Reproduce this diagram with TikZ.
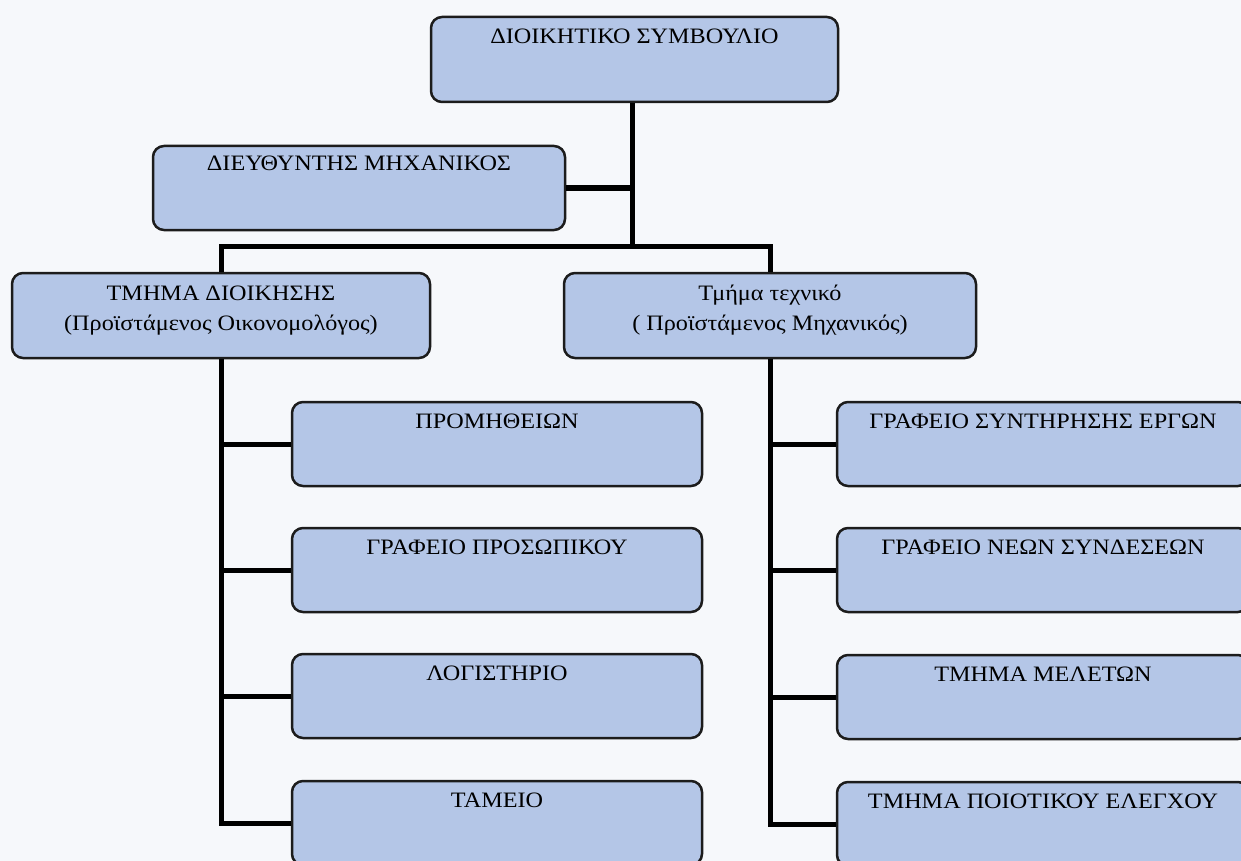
\documentclass[tikz,border=0pt]{standalone}
\usepackage{fontspec}
\setmainfont{Liberation Serif}[FakeStretch=1.1]
\definecolor{boxfill}{HTML}{B4C6E7}
\definecolor{boxline}{HTML}{1C1C1C}
\definecolor{bg}{HTML}{F6F8FB}
\tikzset{
  orgbox/.style={draw=boxline, line width=2.5pt, fill=boxfill, rounded corners=11pt,
    inner sep=0pt, minimum height=84pt},
  conn/.style={draw=black, line width=5pt},
  lbl/.style={anchor=base, inner sep=0pt, font=\fontsize{22}{26}\selectfont, text=black}
}
\begin{document}
\begin{tikzpicture}[x=1pt,y=-1pt]
\useasboundingbox (0,0) rectangle (1241,861);
\fill[bg] (0,0) rectangle (1241,861);
\clip (0,0) rectangle (1241,861);

% boxes
\node[orgbox, minimum width=407pt, minimum height=85pt] (top)   at (634.5,59.5) {};
\node[orgbox, minimum width=412pt] (dir)   at (359,188) {};
\node[orgbox, minimum width=418pt, minimum height=85pt] (admin) at (221,315.5) {};
\node[orgbox, minimum width=412pt, minimum height=85pt] (tech)  at (770,315.5) {};

\node[orgbox, minimum width=410pt] (l1) at (497,444) {};
\node[orgbox, minimum width=410pt] (l2) at (497,570) {};
\node[orgbox, minimum width=410pt] (l3) at (497,696) {};
\node[orgbox, minimum width=410pt] (l4) at (497,823) {};

\node[orgbox, minimum width=412pt] (r1) at (1043,444) {};
\node[orgbox, minimum width=412pt] (r2) at (1043,570) {};
\node[orgbox, minimum width=412pt] (r3) at (1043,697) {};
\node[orgbox, minimum width=412pt] (r4) at (1043,824) {};

% connectors
\coordinate (j) at (632,246);
\draw[conn] (j |- top.south) -- (j);
\draw[conn] (dir.east) -- (dir.east -| j);
\draw[conn] (admin.north) |- (j) -| (tech.north);

\draw[conn] (admin.south) |- (l4.west);
\draw[conn] (admin.south |- l1.west) -- (l1.west);
\draw[conn] (admin.south |- l2.west) -- (l2.west);
\draw[conn] (admin.south |- l3.west) -- (l3.west);

\draw[conn] (tech.south) |- (r4.west);
\draw[conn] (tech.south |- r1.west) -- (r1.west);
\draw[conn] (tech.south |- r2.west) -- (r2.west);
\draw[conn] (tech.south |- r3.west) -- (r3.west);

% texts
\node[lbl] (ttop) at ([yshift=-28pt]top.north) {ΔΙΟΙΚΗΤΙΚΟ ΣΥΜΒΟΥΛΙΟ};
\node[lbl] (tdir) at ([yshift=-26pt]dir.north) {ΔΙΕΥΘΥΝΤΗΣ ΜΗΧΑΝΙΚΟΣ};
\node[lbl] (tadmina) at ([yshift=-29pt]admin.north) {ΤΜΗΜΑ ΔΙΟΙΚΗΣΗΣ};
\node[lbl] (tadminb) at ([yshift=-59pt]admin.north) {(Προϊστάμενος Οικονομολόγος)};
\node[lbl] (ttecha) at ([yshift=-29pt]tech.north) {Τμήμα τεχνικό};
\node[lbl] (ttechb) at ([yshift=-59pt]tech.north) {( Προϊστάμενος Μηχανικός)};

\node[lbl] (tl1) at ([yshift=-28pt]l1.north) {ΠΡΟΜΗΘΕΙΩΝ};
\node[lbl] (tl2) at ([yshift=-28pt]l2.north) {ΓΡΑΦΕΙΟ ΠΡΟΣΩΠΙΚΟΥ};
\node[lbl] (tl3) at ([yshift=-28pt]l3.north) {ΛΟΓΙΣΤΗΡΙΟ};
\node[lbl] (tl4) at ([yshift=-28pt]l4.north) {ΤΑΜΕΙΟ};

\node[lbl] (tr1) at ([yshift=-28pt]r1.north) {ΓΡΑΦΕΙΟ ΣΥΝΤΗΡΗΣΗΣ ΕΡΓΩΝ};
\node[lbl] (tr2) at ([yshift=-28pt]r2.north) {ΓΡΑΦΕΙΟ ΝΕΩΝ ΣΥΝΔΕΣΕΩΝ};
\node[lbl] (tr3) at ([yshift=-28pt]r3.north) {ΤΜΗΜΑ ΜΕΛΕΤΩΝ};
\node[lbl] (tr4) at ([yshift=-28pt]r4.north) {ΤΜΗΜΑ ΠΟΙΟΤΙΚΟΥ ΕΛΕΓΧΟΥ};
\end{tikzpicture}
\end{document}
